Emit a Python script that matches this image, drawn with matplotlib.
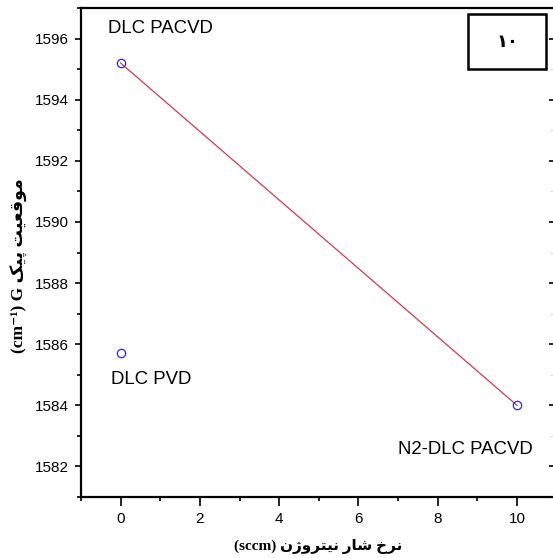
import matplotlib
matplotlib.use('Agg')
import matplotlib.pyplot as plt
from matplotlib.patches import Rectangle
from matplotlib.ticker import MultipleLocator

# data
flow = [0, 0, 10]                      # nitrogen flow rate (sccm)
peak = [1595.2, 1585.7, 1584.0]        # G peak position (cm-1)
names = ['DLC PACVD', 'DLC PVD', 'N2-DLC PACVD']
fit_x = [0, 10]
fit_y = [1595.2, 1584.0]
xticks = [0, 2, 4, 6, 8, 10]
yticks = [1582, 1584, 1586, 1588, 1590, 1592, 1594, 1596]
panel = '\u06F1\u06F0'                 # Persian "10"

# Persian words, presentation forms in logical order (no shaping engine in matplotlib)
w_nerkh = '\uFEE7\uFEAE\uFEA5'                          # نرخ
w_shar = '\uFEB7\uFE8E\uFEAD'                           # شار
w_nitrogen = '\uFEE7\uFBFF\uFE98\uFEAE\uFEED\u0698\uFEE5'  # نیتروژن
w_mogh = '\uFEE3\uFEEE\uFED7\uFECC\uFBFF\uFE96'         # موقعیت
w_peak = '\uFB58\uFBFF\uFB8F'                           # پیک


def visual(s):
    # right-to-left text -> left-to-right glyph order
    return s[::-1]


xlabel = '(sccm) ' + visual(w_nerkh + ' ' + w_shar + ' ' + w_nitrogen)
ylabel = '(cm\u207B\u00B9) G ' + visual(w_mogh + ' ' + w_peak)

sans = ['Liberation Sans', 'DejaVu Sans']
serif = ['Liberation Serif', 'DejaVu Sans']

fig = plt.figure(figsize=(5.53, 5.58), dpi=100)
ax = fig.add_axes([0.1465, 0.1093, 0.860, 0.8763])

ax.plot(fit_x, fit_y, color='#d23a48', lw=0.9)
ax.plot(flow, peak, 'o', ls='none', mfc='none', mec='#2b2bd6', ms=6, mew=0.9)

ax.set_xlim(-1, 11)
ax.set_ylim(1581, 1597)
ax.set_xticks(xticks)
ax.set_yticks(yticks)
ax.xaxis.set_minor_locator(MultipleLocator(1))
ax.yaxis.set_minor_locator(MultipleLocator(1))
for s in ax.spines.values():
    s.set_linewidth(1.6)

ax.tick_params(which='both', direction='out', top=False, right=False, width=1.2)
ax.tick_params(axis='y', which='major', length=4.5, pad=4)
ax.tick_params(axis='y', which='minor', length=3)
ax.tick_params(axis='x', which='major', length=6.5, pad=4)
ax.tick_params(axis='x', which='minor', length=3)
for lab in ax.get_xticklabels() + ax.get_yticklabels():
    lab.set_family(sans)
    lab.set_fontsize(11)

# inward ticks on the right spine (the spine itself is cut off)
sec = ax.secondary_yaxis('right')
sec.set_yticks(yticks)
sec.yaxis.set_minor_locator(MultipleLocator(1))
sec.tick_params(which='major', direction='in', length=6, width=1.2, labelright=False)
sec.tick_params(which='minor', direction='in', length=5, width=1.0, color='#dddddd')
sec.spines['right'].set_linewidth(1.6)

# point labels
label_pos = [(1.0, 1596.17), (0.78, 1584.69), (8.69, 1582.42)]
for name, (tx, ty) in zip(names, label_pos):
    ax.text(tx, ty, name, ha='center', va='baseline', fontsize=13.4, family=sans)

# panel number box
ax.add_patch(Rectangle((0.813, 0.8748), 0.165, 0.114, transform=ax.transAxes,
                       fill=False, ec='black', lw=1.8, clip_on=False))
ax.text(0.896, 0.931, panel, transform=ax.transAxes, ha='center', va='center',
        fontsize=13, fontweight='bold', family=['DejaVu Sans'])

fig.text(318 / 553, 1 - 546 / 558, xlabel, ha='center', va='center',
         fontsize=11, fontweight='bold', family=serif)
fig.text(19 / 553, 1 - 266 / 558, ylabel, ha='center', va='center', rotation=90,
         fontsize=12.5, fontweight='bold', family=serif)

fig.savefig('out.png', dpi=100)
